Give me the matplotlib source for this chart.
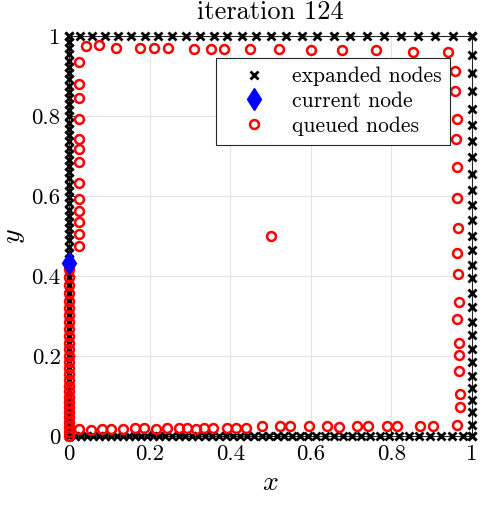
import matplotlib
matplotlib.use('Agg')
import matplotlib.pyplot as plt

plt.rcParams.update({
    'font.family': 'cmr10',
    'mathtext.fontset': 'cm',
    'axes.formatter.use_mathtext': True,
    'font.size': 16,
})

# expanded nodes (black x) on the four edges of the square
bottom_x = [0.000, 0.015, 0.030, 0.045, 0.060, 0.074, 0.089, 0.104, 0.119, 0.134,
            0.149, 0.164, 0.179, 0.194, 0.208, 0.223, 0.239, 0.256, 0.272, 0.288,
            0.304, 0.320, 0.337, 0.355, 0.372, 0.390, 0.407, 0.424, 0.442, 0.459,
            0.478, 0.496, 0.515, 0.533, 0.553, 0.573, 0.593, 0.613, 0.635, 0.658,
            0.680, 0.702, 0.725, 0.748, 0.772, 0.795, 0.819, 0.844, 0.868, 0.896,
            0.923, 0.950, 0.978, 1.000]
top_x = [0.000, 0.027, 0.057, 0.089, 0.122, 0.155, 0.189, 0.222, 0.256, 0.290,
         0.324, 0.359, 0.393, 0.429, 0.464, 0.501, 0.538, 0.577, 0.616, 0.658,
         0.698, 0.739, 0.782, 0.824, 0.866, 0.909, 0.954, 1.000]
left_y = [1.000, 0.985, 0.969, 0.954, 0.938, 0.923, 0.907, 0.892, 0.876, 0.861,
          0.845, 0.830, 0.814, 0.799, 0.783, 0.768, 0.752, 0.737, 0.721, 0.706,
          0.690, 0.675, 0.659, 0.644, 0.628, 0.613, 0.597, 0.582, 0.566, 0.551,
          0.535, 0.520, 0.504, 0.489, 0.473, 0.458, 0.443,
          0.418, 0.397, 0.377, 0.357, 0.338, 0.320, 0.302, 0.284, 0.267, 0.250,
          0.233, 0.217, 0.201, 0.185, 0.170, 0.155, 0.140, 0.126, 0.112, 0.098,
          0.085, 0.072, 0.059, 0.047, 0.035, 0.023, 0.011, 0.000]
right_y = [1.000, 0.953, 0.908, 0.863, 0.818, 0.778, 0.738, 0.698, 0.655, 0.615,
           0.578, 0.540, 0.500, 0.465, 0.428, 0.394, 0.358, 0.323, 0.286, 0.253,
           0.218, 0.185, 0.150, 0.120, 0.090, 0.059, 0.028, 0.000]

# current node
current_x = [0.0]
current_y = [0.433]

# queued nodes (red circles)
q_left_low_y = [0.418, 0.397, 0.377, 0.357, 0.338, 0.320, 0.302, 0.284, 0.267, 0.250,
                0.233, 0.217, 0.201, 0.185, 0.170, 0.155, 0.140, 0.126, 0.112, 0.098,
                0.085, 0.072, 0.059, 0.047, 0.035, 0.023, 0.011, 0.000]
q_left_up_y = [0.934, 0.879, 0.846, 0.792, 0.743, 0.717, 0.686, 0.632, 0.593, 0.563,
               0.536, 0.505, 0.475]
q_top_x = [0.041, 0.074, 0.117, 0.176, 0.212, 0.245, 0.310, 0.352, 0.385, 0.449,
           0.522, 0.600, 0.678, 0.761, 0.853, 0.941]
q_top_y = [0.975, 0.977, 0.969, 0.969, 0.969, 0.969, 0.968, 0.967, 0.967, 0.967,
           0.967, 0.965, 0.965, 0.965, 0.959, 0.959]
q_right_x = [0.958, 0.958, 0.962, 0.961, 0.962, 0.964, 0.966, 0.962, 0.966, 0.968,
             0.964, 0.968, 0.968, 0.968, 0.969, 0.969]
q_right_y = [0.913, 0.863, 0.793, 0.742, 0.672, 0.594, 0.519, 0.458, 0.405, 0.336,
             0.292, 0.233, 0.203, 0.163, 0.104, 0.073]
q_bottom_x = [0.025, 0.055, 0.083, 0.103, 0.133, 0.164, 0.186, 0.216, 0.242, 0.272,
              0.294, 0.314, 0.336, 0.358, 0.391, 0.415, 0.440, 0.480, 0.524, 0.548,
              0.596, 0.641, 0.670, 0.715, 0.743, 0.788, 0.815, 0.872, 0.902, 0.964]
q_bottom_y = [0.018, 0.016, 0.018, 0.018, 0.018, 0.020, 0.020, 0.018, 0.020, 0.020,
              0.020, 0.018, 0.020, 0.020, 0.020, 0.020, 0.020, 0.024, 0.024, 0.024,
              0.026, 0.024, 0.022, 0.026, 0.026, 0.025, 0.025, 0.026, 0.026, 0.027]
q_center = (0.5, 0.5)

tick_vals = [0, 0.2, 0.4, 0.6, 0.8, 1]
tick_labels = ['0', '0.2', '0.4', '0.6', '0.8', '1']

exp_x = bottom_x + top_x + [0.0] * len(left_y) + [1.0] * len(right_y)
exp_y = [0.0] * len(bottom_x) + [1.0] * len(top_x) + left_y + right_y

q_x = ([0.0] * len(q_left_low_y) + [0.025] * len(q_left_up_y) + q_top_x
       + q_right_x + q_bottom_x + [q_center[0]])
q_y = q_left_low_y + q_left_up_y + q_top_y + q_right_y + q_bottom_y + [q_center[1]]

fig = plt.figure(figsize=(4.84, 5.07), dpi=100)
ax = fig.add_axes([69/484, 71/507, 403/484, 400/507])

ax.plot(exp_x, exp_y, 'x', color='black', ms=5.5, mew=2.0, ls='none',
        clip_on=False, zorder=3, label='expanded nodes')
ax.plot(current_x, current_y, 'd', color='blue', ms=11.5, ls='none',
        clip_on=False, zorder=5, label='current node')
ax.plot(q_x, q_y, 'o', mfc='none', mec='red', ms=6.4, mew=1.8, ls='none',
        clip_on=False, zorder=4, label='queued nodes')

ax.set_xlim(0, 1)
ax.set_ylim(0, 1)
ax.set_xticks(tick_vals)
ax.set_xticklabels(tick_labels)
ax.set_yticks(tick_vals)
ax.set_yticklabels(tick_labels)
ax.tick_params(direction='in', length=4, width=0.6, labelsize=16.5, pad=6)
ax.grid(True, color='#e3e3e3', lw=0.8)
ax.set_axisbelow(True)
for s in ax.spines.values():
    s.set_color('#262626')
    s.set_linewidth(0.8)

ax.set_xlabel('$x$', fontsize=20, labelpad=4)
ax.set_ylabel('$y$', fontsize=20, labelpad=3)
ax.set_title('iteration 124', fontsize=19, pad=12)

leg = ax.legend(loc='upper right', bbox_to_anchor=(0.945, 0.945), fontsize=15.5,
                frameon=True, fancybox=False, framealpha=1, edgecolor='#262626',
                borderpad=0.4, handlelength=2.7, handletextpad=0.4,
                labelspacing=0.25, borderaxespad=0)
leg.get_frame().set_linewidth(0.8)
leg.set_zorder(10)

fig.savefig('out.png', dpi=100)
